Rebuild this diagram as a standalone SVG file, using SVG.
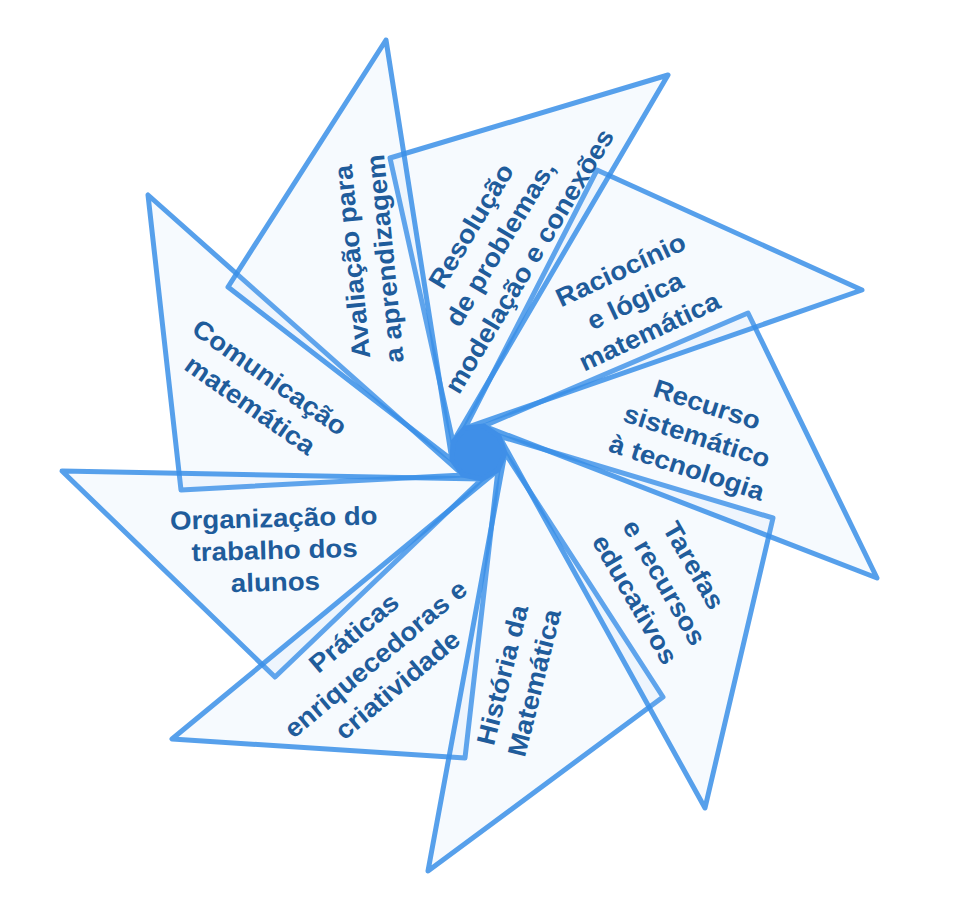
<svg xmlns="http://www.w3.org/2000/svg" width="970" height="898" viewBox="0 0 970 898">
<style>
.tri{fill:#a8cdf3;fill-opacity:0.1;stroke:#3a8fe8;stroke-opacity:0.85;stroke-width:5;stroke-linejoin:round}
.lbl{font-family:"Liberation Sans",Arial,sans-serif;font-weight:bold;font-size:26px;fill:#1f5c9b;text-anchor:middle}
.hub{fill:#3f8fe8;stroke:#3f8fe8;stroke-width:5;stroke-linejoin:round}
</style>
<rect width="970" height="898" fill="#ffffff"/>
<g id="connectors"/>
<g id="n-comunicacao">
<polygon class="tri" points="148,195 181,490 463,475"/>
<text class="lbl" transform="translate(264.7,384.6) rotate(35) scale(1.065,1)"><tspan x="0" dy="0">Comunicação</tspan><tspan x="0" dy="34">matemática</tspan></text>
</g>
<g id="n-organizacao">
<polygon class="tri" points="62,471 275,677 482,479"/>
<text class="lbl" transform="translate(274,527) rotate(-1.5) scale(1.065,1)"><tspan x="0" dy="0">Organização do</tspan><tspan x="0" dy="32">trabalho dos</tspan><tspan x="0" dy="32">alunos</tspan></text>
</g>
<g id="n-praticas">
<polygon class="tri" points="172,739 465,758 498,470"/>
<text class="lbl" transform="translate(359.5,639.6) rotate(-40) scale(1.065,1)"><tspan x="0" dy="0">Práticas</tspan><tspan x="0" dy="34">enriquecedoras e</tspan><tspan x="0" dy="34">criatividade</tspan></text>
</g>
<g id="n-historia">
<polygon class="tri" points="428,871 663,697 505,453"/>
<text class="lbl" transform="translate(511.1,677) rotate(-76) scale(1.065,1)"><tspan x="0" dy="0">História da</tspan><tspan x="0" dy="33">Matemática</tspan></text>
</g>
<g id="n-tarefas">
<polygon class="tri" points="705,808 773,518 499,436"/>
<text class="lbl" transform="translate(686.2,569.9) rotate(60) scale(1.065,1)"><tspan x="0" dy="0">Tarefas</tspan><tspan x="0" dy="34">e recursos</tspan><tspan x="0" dy="34">educativos</tspan></text>
</g>
<g id="n-recurso">
<polygon class="tri" points="877,578 748,313 484,426"/>
<text class="lbl" transform="translate(704.4,413.2) rotate(18) scale(1.065,1)"><tspan x="0" dy="0">Recurso</tspan><tspan x="0" dy="33">sistemático</tspan><tspan x="0" dy="33">à tecnologia</tspan></text>
</g>
<g id="n-raciocinio">
<polygon class="tri" points="862,290 597,170 465,428"/>
<text class="lbl" transform="translate(624.5,277.9) rotate(-25) scale(1.065,1)"><tspan x="0" dy="0">Raciocínio</tspan><tspan x="0" dy="34">e lógica</tspan><tspan x="0" dy="34">matemática</tspan></text>
</g>
<g id="n-resolucao">
<polygon class="tri" points="668,75 390,158 453,442"/>
<text class="lbl" transform="translate(478.7,230.6) rotate(-59) scale(1.065,1)"><tspan x="0" dy="0">Resolução</tspan><tspan x="0" dy="34">de problemas,</tspan><tspan x="0" dy="34">modelação e conexões</tspan></text>
</g>
<g id="n-avaliacao">
<polygon class="tri" points="386,40 228,287 452,460"/>
<text class="lbl" transform="translate(361,261) rotate(-95.5) scale(1.065,1)"><tspan x="0" dy="0">Avaliação para</tspan><tspan x="0" dy="33">a aprendizagem</tspan></text>
</g>
<g id="hub">
<polygon class="hub" points="452,460 453,442 465,428 484,426 499,436 505,453 498,470 482,479 463,475"/>
</g>
</svg>
